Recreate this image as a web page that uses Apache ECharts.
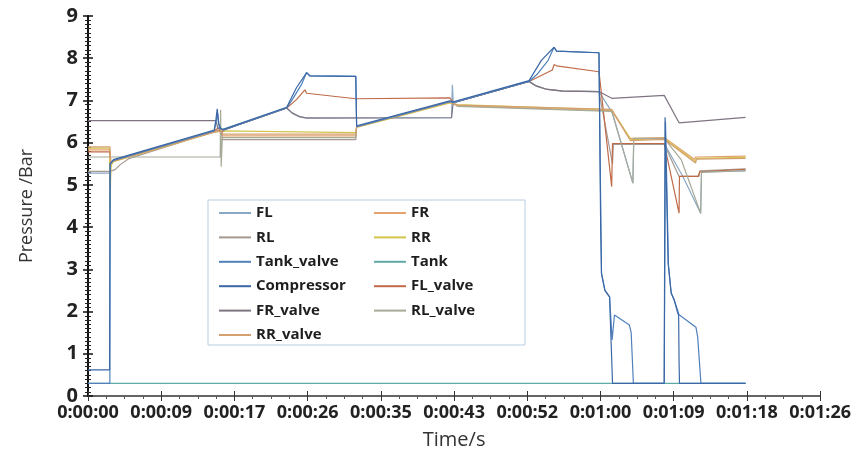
<!DOCTYPE html>
<html>
<head>
<meta charset="utf-8">
<title>Pressure</title>
<script src="https://cdn.jsdelivr.net/npm/echarts@6/dist/echarts.min.js"></script>
<style>
  html, body { margin: 0; padding: 0; background: #fff; }
  #chart { width: 854px; height: 467px; }
</style>
</head>
<body>
<div id="chart"></div>
<script>
// [time s, pressure bar]
const FL = [[0,5.28],[2.58,5.28],[2.7,5.52],[3.0,5.58],[14.9,6.28],[15.7,6.3],[16.0,6.3],[23.45,6.82],[24.0,6.72],[24.8,6.63],[25.7,6.59],[42.9,6.59],[43.0,7.37],[43.1,6.95],[52.05,7.45],[52.8,7.36],[54.0,7.27],[56.0,7.22],[60.3,7.21],[61.9,6.7],[64.3,5.04],[64.4,5.98],[68.0,5.98],[70.2,5.2],[72.3,4.33],[72.4,5.3],[77.6,5.34]]
const FR = [[0,5.83],[2.58,5.83],[2.62,5.0],[2.7,5.5],[3.0,5.57],[14.9,6.27],[15.7,6.29],[15.9,6.16],[31.6,6.16],[31.7,6.37],[42.7,6.96],[43.6,6.87],[61.8,6.76],[63.9,6.1],[68.0,6.12],[71.6,5.6],[71.7,5.66],[77.6,5.68]]
const RL = [[0,5.32],[2.58,5.32],[3.2,5.36],[3.8,5.48],[4.8,5.62],[6.0,5.7],[14.9,6.26],[15.7,6.28],[15.9,6.07],[31.6,6.07],[31.7,6.38],[42.7,6.97],[43.1,6.95],[52.05,7.45],[52.8,7.35],[54.0,7.27],[56.0,7.23],[60.3,7.21],[61.9,5.5],[62.0,5.96],[68.0,5.96],[69.75,5.2],[72.1,5.2],[72.2,5.33],[77.6,5.38]]
const RR = [[0,5.87],[2.55,5.87],[2.6,4.4],[2.7,5.45],[3.0,5.55],[14.9,6.25],[15.7,6.28],[15.9,6.24],[31.6,6.24],[31.7,6.36],[42.7,6.94],[43.6,6.9],[61.8,6.78],[64.1,6.07],[68.0,6.1],[71.7,5.55],[71.8,5.63],[77.6,5.65]]
const TankValve = [[0,0.3],[2.58,0.3],[2.62,5.5],[3.0,5.58],[14.9,6.28],[15.3,6.7],[15.5,6.35],[16.0,6.3],[23.45,6.82],[24.2,7.05],[25.2,7.38],[25.8,7.66],[26.2,7.58],[31.6,7.57],[31.7,6.38],[42.7,6.97],[43.1,6.95],[52.05,7.45],[53.0,7.62],[54.3,7.95],[55.0,8.26],[55.3,8.17],[60.3,8.13],[60.6,2.9],[61.0,2.5],[61.55,2.35],[61.85,1.33],[62.13,1.92],[63.89,1.68],[64.1,1.5],[64.36,0.3],[68.0,0.3],[68.15,6.5],[68.5,3.1],[68.82,2.44],[69.17,2.28],[69.6,1.95],[69.75,1.92],[71.74,1.63],[71.95,1.4],[72.33,0.3],[77.6,0.3]]
const Tank = [[0,0.3],[77.6,0.3]]
const Compressor = [[0,0.62],[2.55,0.62],[2.6,5.5],[3.0,5.6],[14.9,6.3],[15.1,6.55],[15.25,6.8],[15.4,6.45],[15.7,6.33],[16.0,6.32],[23.45,6.84],[24.6,7.3],[25.8,7.66],[26.2,7.58],[31.6,7.57],[31.7,6.4],[42.7,6.99],[43.1,6.97],[52.05,7.47],[53.5,7.95],[55.0,8.26],[55.3,8.17],[60.3,8.13],[60.5,4.0],[60.6,2.9],[61.0,2.5],[61.55,2.35],[61.9,0.3],[68.0,0.3],[68.1,6.6],[68.46,3.15],[68.82,2.44],[69.17,2.28],[69.7,1.95],[69.75,0.85],[69.8,0.3],[77.6,0.3]]
const FLValve = [[0,5.78],[2.58,5.78],[2.7,5.52],[3.0,5.58],[14.9,6.28],[15.4,6.35],[15.7,6.2],[16.0,6.3],[23.45,6.82],[24.6,7.02],[25.6,7.25],[25.8,7.17],[31.6,7.04],[42.7,7.06],[43.1,6.95],[52.05,7.45],[54.8,7.72],[55.0,7.85],[55.3,7.82],[60.3,7.68],[60.5,7.33],[61.8,4.96],[61.9,5.98],[68.0,5.98],[69.75,4.33],[69.8,5.2],[72.0,5.2],[72.2,5.31],[77.6,5.37]]
const FRValve = [[0,6.52],[15.1,6.52],[15.3,6.35],[16.0,6.3],[23.45,6.82],[24.1,6.7],[25.0,6.61],[25.8,6.58],[42.9,6.59],[43.1,6.95],[52.05,7.45],[52.9,7.34],[54.2,7.26],[56.0,7.22],[60.3,7.21],[61.8,7.05],[68.0,7.12],[69.75,6.47],[77.6,6.6]]
const RLValve = [[0,5.66],[15.6,5.66],[15.65,6.78],[15.72,5.43],[15.85,6.12],[31.6,6.12],[31.7,6.38],[42.7,6.97],[43.1,6.95],[43.6,6.86],[61.8,6.74],[64.3,5.04],[64.4,6.1],[68.0,6.1],[70.0,5.6],[72.3,4.33],[72.4,5.3],[77.6,5.33]]
const RRValve = [[0,5.9],[2.58,5.9],[2.7,5.5],[3.0,5.56],[14.9,6.25],[15.7,6.27],[15.9,6.2],[31.6,6.2],[31.7,6.37],[42.7,6.96],[43.6,6.89],[61.8,6.79],[64.0,6.05],[68.0,6.08],[71.7,5.52],[71.8,5.61],[77.6,5.63]]

const names = ['FL', 'FR', 'RL', 'RR', 'Tank_valve', 'Tank', 'Compressor', 'FL_valve', 'FR_valve', 'RL_valve', 'RR_valve']
const values = [FL, FR, RL, RR, TankValve, Tank, Compressor, FLValve, FRValve, RLValve, RRValve]
const colors = ['#8aa7c4', '#e3a36e', '#a59890', '#d2c44c', '#4f80bb', '#5fa9a6', '#3a68a6', '#c06a48', '#7f7482', '#a6aa98', '#d4a070']

const xMax = 86.4      // 0.001 day
const xStep = 8.64

function fmtTime(v) {
  const s = Math.round(v)
  const m = Math.floor(s / 60)
  const ss = s % 60
  return '0:' + String(m).padStart(2, '0') + ':' + String(ss).padStart(2, '0')
}

const chart = echarts.init(document.getElementById('chart'))
const font = 'Open Sans'

const series = names.map((n, i) => ({
  name: n,
  type: 'line',
  data: values[i],
  showSymbol: false,
  symbol: 'none',
  z: (n === 'Compressor' || n === 'Tank_valve') ? 4 : 3,
  lineStyle: { width: 1.2, color: colors[i] },
  itemStyle: { color: colors[i] }
}))

const legendBase = {
  orient: 'vertical',
  icon: 'rect',
  itemWidth: 32,
  itemHeight: 2,
  itemGap: 8.4,
  padding: 0,
  top: 205,
  textStyle: { fontFamily: font, fontSize: 15, fontWeight: 'bold', color: '#1e1e1e', lineHeight: 16 }
}

chart.setOption({
  animation: false,
  color: colors,
  grid: { left: 88, right: 29, top: 16, bottom: 71 },
  xAxis: [
    {
      type: 'value', min: 0, max: xMax, interval: xStep,
      name: 'Time/s', nameLocation: 'middle', nameGap: 34,
      nameTextStyle: { fontFamily: font, fontSize: 20, color: '#333' },
      axisLine: { lineStyle: { color: '#333', width: 1.5 } },
      axisTick: { length: 5, lineStyle: { color: '#333' } },
      minorTick: { show: true, splitNumber: 4, length: 3, lineStyle: { color: '#555' } },
      splitLine: { show: false },
      axisLabel: { formatter: fmtTime, margin: 8, fontFamily: font, fontSize: 18, fontWeight: 'bold', color: '#222' }
    },
    {
      type: 'value', min: 0, max: xMax, interval: xStep, position: 'bottom',
      axisLine: { show: false },
      axisTick: { inside: true, length: 5, lineStyle: { color: '#333' } },
      axisLabel: { show: false },
      splitLine: { show: false }
    }
  ],
  yAxis: [
    {
      type: 'value', min: 0, max: 9, interval: 1,
      name: 'Pressure /Bar', nameLocation: 'middle', nameGap: 52,
      nameTextStyle: { fontFamily: font, fontSize: 18, color: '#333' },
      axisLine: { show: true, lineStyle: { color: '#111', width: 2 } },
      axisTick: { show: true, length: 5, lineStyle: { color: '#111', width: 1.5 } },
      minorTick: { show: true, splitNumber: 10, length: 3, lineStyle: { color: '#222' } },
      splitLine: { show: false },
      axisLabel: { margin: 10, fontFamily: font, fontSize: 20, fontWeight: 'bold', color: '#222' }
    },
    {
      type: 'value', min: 0, max: 9, interval: 1, position: 'left',
      axisLine: { show: false },
      axisTick: { show: true, inside: true, length: 5, lineStyle: { color: '#111', width: 1.5 } },
      minorTick: { show: true, splitNumber: 10, length: 3, lineStyle: { color: '#222' } },
      axisLabel: { show: false },
      splitLine: { show: false }
    }
  ],
  graphic: [{
    type: 'rect',
    z: 1,
    shape: { x: 208, y: 200, width: 317, height: 145 },
    style: { fill: '#fff', stroke: '#b9cde0', lineWidth: 1 }
  }],
  legend: [
    Object.assign({}, legendBase, { left: 219, data: ['FL', 'RL', 'Tank_valve', 'Compressor', 'FR_valve', 'RR_valve'] }),
    Object.assign({}, legendBase, { left: 374, data: ['FR', 'RR', 'Tank', 'FL_valve', 'RL_valve'] })
  ],
  series: series
})
</script>
</body>
</html>
